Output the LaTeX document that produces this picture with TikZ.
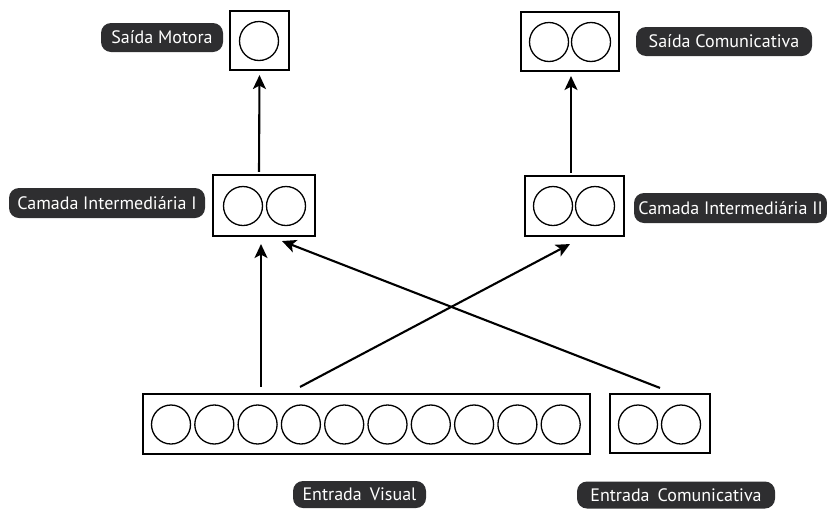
\documentclass[tikz,border=0pt]{standalone}
\usepackage{fontspec}
\setmainfont{PT Sans}
\usetikzlibrary{arrows.meta}
\definecolor{tagfill}{HTML}{2E2E30}
\begin{document}
\begin{tikzpicture}[x=1pt,y=1pt,
  layerbox/.style={draw=black, line width=2.1pt, fill=white, inner sep=0pt},
  unit/.style={draw=black, line width=1.3pt, circle, minimum size=39pt, inner sep=0pt},
  tag/.style={fill=tagfill, text=white, rounded corners=10pt, inner sep=0pt,
    font=\fontsize{18}{21}\selectfont},
  arr/.style={line width=2.1pt, -{Stealth[length=14pt,width=13pt,inset=3.5pt]}}]
\useasboundingbox (0,0) rectangle (827,-509);

% layer boxes
\node[layerbox, minimum width=59pt, minimum height=59pt] (sm) at (259.5,-40.5) {};
\node[layerbox, minimum width=98pt, minimum height=59pt] (sc) at (570,-41.5) {};
\node[layerbox, minimum width=102pt, minimum height=61pt] (c1) at (264,-205.5) {};
\node[layerbox, minimum width=99pt, minimum height=60pt] (c2) at (574.5,-206) {};
\node[layerbox, minimum width=447pt, minimum height=60pt] (ev) at (366.5,-424) {};
\node[layerbox, minimum width=100pt, minimum height=59pt] (ec) at (660,-423.5) {};

% units inside the layers
\node[unit] (sm1) at (259,-41) {};
\node[unit] (sc1) at (549,-42) {};
\node[unit] (sc2) at (591,-42) {};
\node[unit] (c11) at (243,-206) {};
\node[unit] (c12) at (286,-206) {};
\node[unit] (c21) at (553,-206) {};
\node[unit] (c22) at (595,-206) {};
\foreach \k in {0,...,9}
  \node[unit] (ev\k) at ({171+43.3*\k},-424.5) {};
\node[unit] (ec1) at (638,-424.5) {};
\node[unit] (ec2) at (681,-424.5) {};

% labels
\node[tag, minimum width=122pt, minimum height=29pt] (lsm) at (162,-37.5) {Saída Motora};
\node[tag, minimum width=176pt, minimum height=29pt] (lsc) at (724,-41.5) {Saída Comunicativa};
\node[tag, minimum width=196pt, minimum height=30pt] (lc1) at (107,-203) {Camada Intermediária I};
\node[tag, minimum width=193pt, minimum height=30pt] (lc2) at (730.5,-208) {Camada Intermediária II};
\node[tag, minimum width=133pt, minimum height=27pt] (lev) at (359.5,-494.5) {Entrada\hspace{0.45em}Visual};
\node[tag, minimum width=198pt, minimum height=27pt] (lec) at (676,-495) {Entrada\hspace{0.45em}Comunicativa};

% connections
\draw[arr] ([xshift=-5pt,yshift=2pt]c1.north) -- ([yshift=-4pt]sm.south);
\draw[arr] ([xshift=-3.5pt,yshift=2pt]c2.north) -- ([xshift=1pt,yshift=-4pt]sc.south);
\draw[arr] ([xshift=-105.5pt,yshift=6pt]ev.north) -- ([xshift=-3pt,yshift=-7pt]c1.south);
\draw[arr] ([xshift=-66.5pt,yshift=6pt]ev.north) -- ([xshift=-4.5pt,yshift=-7pt]c2.south);
\draw[arr] ([yshift=5pt]ec.north) -- ([xshift=18pt,yshift=-4pt]c1.south);
\end{tikzpicture}
\end{document}
